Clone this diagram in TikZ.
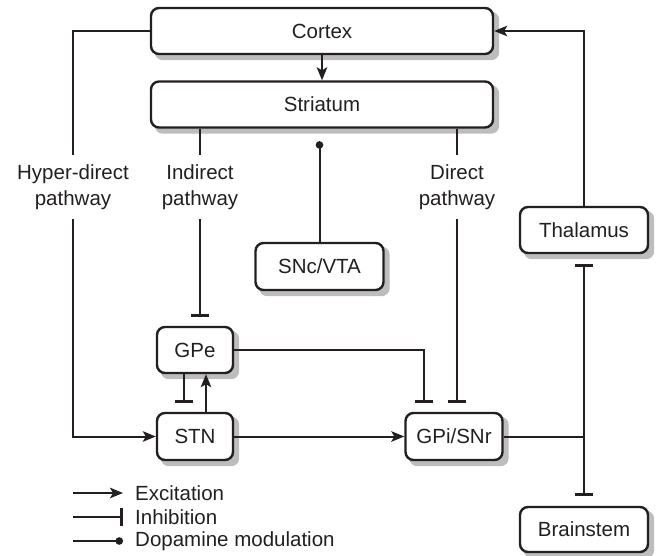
\documentclass[tikz,border=0pt]{standalone}
\usepackage{fontspec}
\setmainfont{Liberation Sans}
\usetikzlibrary{arrows.meta,calc,backgrounds}
\definecolor{ink}{HTML}{231F20}
\definecolor{shade}{HTML}{BDBDBD}
\tikzset{
  region/.style={draw=ink, line width=2.4pt, rounded corners=8pt, fill=white,
    inner sep=0pt, text=ink},
  boxshadow/.style={fill=shade, rounded corners=8pt},
  wire/.style={draw=ink, line width=2pt},
  excite/.style={wire, -{Stealth[length=13pt,width=10.5pt,inset=3pt]}},
  inhib/.style={wire, -{Bar[width=18pt,line width=3pt]}, shorten >=9pt},
  dopa/.style={wire, -{Circle[length=7.5pt,width=7.5pt]}},
  pathlabel/.style={align=center, text=ink, minimum height=64pt, inner sep=0pt},
  legendtext/.style={anchor=west, text=ink, inner sep=0pt}
}
\begin{document}
\begin{tikzpicture}[x=1pt,y=-1pt,
  every node/.append style={font=\fontsize{20.5}{25.5}\selectfont}]
\useasboundingbox (0,0) rectangle (661,556);

% structures
\node[region, minimum width=342pt, minimum height=46pt] (cortex) at (322,31) {Cortex};
\node[region, minimum width=342pt, minimum height=46pt] (striatum) at (322,104.5) {Striatum};
\node[region, minimum width=128pt, minimum height=47pt] (snc) at (319.5,266.5) {SNc/VTA};
\node[region, minimum width=76pt, minimum height=46pt] (gpe) at (195,350) {GPe};
\node[region, minimum width=76pt, minimum height=47pt] (stn) at (195,436.5) {STN};
\node[region, minimum width=97pt, minimum height=47pt] (gpi) at (454,436.5) {GPi/SNr};
\node[region, minimum width=128pt, minimum height=46pt] (thal) at (584,230) {Thalamus};
\node[region, minimum width=128pt, minimum height=45pt] (brain) at (584,529.5) {Brainstem};

% soft grey shadows offset down and to the right
\begin{scope}[on background layer]
  \foreach \n in {cortex,striatum,snc,gpe,stn,gpi,thal,brain}
    \fill[boxshadow] ($(\n.north west)+(5,5)$) rectangle ($(\n.south east)+(5,5)$);
\end{scope}

% pathway labels
\node[pathlabel] (hyper) at (73,187) {Hyper-direct\\pathway};
\node[pathlabel] (indirect) at (200,187) {Indirect\\pathway};
\node[pathlabel] (direct) at (457,187) {Direct\\pathway};

\coordinate (junction) at (584,436.5);

% cortex to striatum
\draw[excite] (cortex) -- (striatum);

% hyper-direct pathway
\draw[wire] (cortex.west) -| (hyper.north);
\draw[excite] (hyper.south) |- (stn.west);

% indirect pathway
\draw[wire] (striatum.south -| indirect.north) -- (indirect.north);
\draw[inhib] (indirect.south) -- (indirect.south |- gpe.north);

% direct pathway
\draw[wire] (striatum.south -| direct.north) -- (direct.north);
\draw[inhib] (direct.south) -- (direct.south |- gpi.north);

% dopamine modulation
\draw[dopa, shorten >=12.5pt] (snc.north) -- (snc.north |- striatum.south);

% GPe / STN loop
\draw[inhib] ($(gpe.south)+(-11,0)$) -- ($(stn.north)+(-11,0)$);
\draw[excite] ($(stn.north)+(11,0)$) -- ($(gpe.south)+(11,0)$);
\draw[inhib] (gpe.east) -| (gpi.north -| 424,0);

% STN to GPi/SNr
\draw[excite] (stn.east) -- (gpi.west);

% output stage
\draw[wire] (gpi.east) -- (junction);
\draw[inhib, shorten >=10pt] (junction) -- (thal.south);
\draw[inhib, shorten >=10pt] (junction) -- (brain.north);
\draw[excite] (thal.north) |- (cortex.east);

% legend
\coordinate (la1) at (73,493); \coordinate (lb1) at (123,493);
\coordinate (la2) at (73,517); \coordinate (lb2) at (123,517);
\coordinate (la3) at (73,541); \coordinate (lb3) at (123,541);
\draw[excite] (la1) -- (lb1);
\draw[inhib, shorten >=0pt] (la2) -- (lb2);
\draw[dopa] (la3) -- (lb3);
\node[legendtext] (lt1) at (135,493) {Excitation};
\node[legendtext] (lt2) at (135,517) {Inhibition};
\node[legendtext] (lt3) at (135,541) {Dopamine modulation};
\end{tikzpicture}
\end{document}
